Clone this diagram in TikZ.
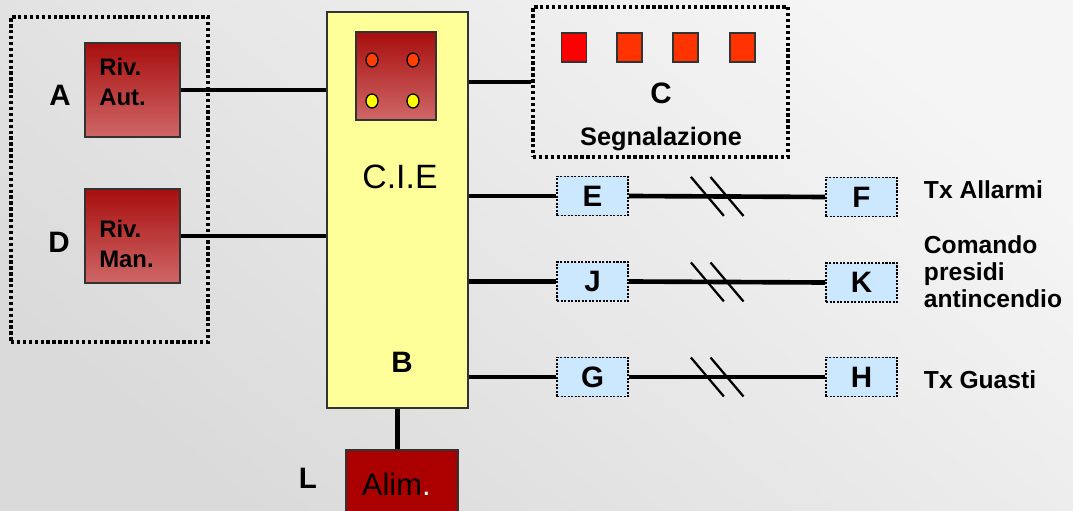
\documentclass[tikz,border=0pt]{standalone}
\usepackage{fontspec}
\setmainfont{Liberation Sans}
\usetikzlibrary{calc, shapes.geometric}
\definecolor{bglight}{HTML}{F5F5F5}
\definecolor{bgdark}{HTML}{DADADA}
\definecolor{cieyellow}{HTML}{FFFF99}
\definecolor{rivtop}{HTML}{A80E0E}
\definecolor{rivbot}{HTML}{CF6767}
\definecolor{alimred}{HTML}{AA0000}
\definecolor{ledorange}{HTML}{FF4000}
\definecolor{ledyellow}{HTML}{FFFF00}
\definecolor{sigred}{HTML}{FF0000}
\definecolor{sigorange}{HTML}{FF3300}
\definecolor{txblue}{HTML}{CCE8FF}
\definecolor{ink}{HTML}{000000}
\definecolor{edge}{HTML}{333333}

\begin{document}
\begin{tikzpicture}[
    x=0.025cm, y=-0.025cm,
    every node/.style={font=\bfseries, text=ink},
    wire/.style={line width=3.3pt, ink},
    brk/.style={line width=1.6pt, ink},
    % dotted grouping frame
    frame/.style={rectangle, draw=ink, line width=2.4pt, dash pattern=on 2.4pt off 1.8pt},
    % red gradient boxes
    rivbox/.style={rectangle, draw=edge, line width=0.9pt, top color=rivtop, bottom color=rivbot,
                   minimum width=2.375cm, minimum height=2.35cm},
    rivtxt/.style={anchor=north west, inner sep=0pt, align=left,
                   font=\fontsize{17}{21.3}\selectfont\bfseries},
    % light blue transmitter boxes
    txbox/.style={rectangle, draw=ink, line width=1.3pt, dash pattern=on 1.5pt off 1pt, fill=txblue,
                  minimum width=1.775cm, minimum height=0.975cm, inner sep=0pt,
                  font=\fontsize{21}{21}\selectfont\bfseries},
    led/.style={ellipse, draw=ink, line width=0.9pt, minimum width=0.3cm, minimum height=0.35cm, inner sep=0pt},
    sig/.style={rectangle, draw=edge, line width=0.9pt, minimum width=0.625cm, minimum height=0.725cm, inner sep=0pt},
    letter/.style={font=\fontsize{21}{21}\selectfont\bfseries},
    lbl/.style={anchor=west, align=left, font=\fontsize{17.5}{19.2}\selectfont\bfseries}
]

% ---------- Background ----------
\path[top color=bglight, bottom color=bgdark, shading angle=-40] (0,0) rectangle (1073,511);
\useasboundingbox (0,0) rectangle (1073,511);

% ---------- Detectors ----------
\node[frame, minimum width=4.925cm, minimum height=8.125cm] at (109.5, 179.5) (detgroup) {};
\node[rivbox] at (132.5, 90) (rivaut) {};
\node[rivbox] at (132.5, 236) (rivman) {};
\node[rivtxt] at (99, 58) (rivauttxt) {Riv.\\Aut.};
\node[rivtxt] at (99, 220) (rivmantxt) {Riv.\\Man.};
\node[letter] at (60, 95) (la) {A};
\node[letter] at (59, 242) (ld) {D};

% ---------- Central unit ----------
\node[rectangle, draw=edge, line width=1pt, fill=cieyellow,
      minimum width=3.525cm, minimum height=9.9cm] at (397.5, 210) (cie) {};
\node[rectangle, draw=edge, line width=0.9pt, top color=rivtop, bottom color=rivbot,
      minimum width=2cm, minimum height=2.2cm] at (396, 76) (panel) {};
\node[led, fill=ledorange] at (372, 60) (led1) {};
\node[led, fill=ledorange] at (413, 60) (led2) {};
\node[led, fill=ledyellow] at (372, 101) (led3) {};
\node[led, fill=ledyellow] at (413, 101) (led4) {};
\node[font=\fontsize{24}{24}\selectfont] at (400, 177) (cietxt) {C.I.E};
\node[letter] at (402, 362) (lb) {B};

% ---------- Signalling ----------
\node[frame, minimum width=6.375cm, minimum height=3.75cm] at (660.5, 82) (cbox) {};
\node[sig, fill=sigred] at (574, 47.5) (s1) {};
\node[sig, fill=sigorange] at (629.5, 47.5) (s2) {};
\node[sig, fill=sigorange] at (685.5, 47.5) (s3) {};
\node[sig, fill=sigorange] at (742.5, 47.5) (s4) {};
\node[letter] at (661, 93) (lc) {C};
\node[font=\fontsize{18}{18}\selectfont\bfseries] at (661, 139) (segn) {Segnalazione};

% ---------- Transmissions ----------
\node[txbox] at (592.5, 196) (e) {E};
\node[txbox] at (861.5, 197) (f) {F};
\node[txbox] at (592.5, 281.5) (j) {J};
\node[txbox] at (861.5, 282.5) (k) {K};
\node[txbox] at (592.5, 377) (g) {G};
\node[txbox] at (861.5, 377) (h) {H};
\node[lbl] at (919, 190) (txall) {Tx Allarmi};
\node[lbl] at (919, 272) (cmd) {Comando\\presidi\\antincendio};
\node[lbl] at (919, 380) (txgua) {Tx Guasti};

% ---------- Power supply ----------
\node[rectangle, draw=edge, line width=0.9pt, fill=alimred,
      minimum width=2.8cm, minimum height=1.75cm] at (402, 485) (alim) {};
\node[font=\fontsize{22}{22}\selectfont, anchor=west] at (357, 484) (alimtxt) {Alim\textcolor{white}{.}};
\node[letter] at (308, 478) (ll) {L};

% ---------- Wiring ----------
\draw[wire] (rivaut.east) -- (rivaut.east -| cie.west);
\draw[wire] (rivman.east) -- (rivman.east -| cie.west);
\draw[wire] (cbox.west -| cie.east) -- (cbox.west);
\draw[wire] (cie.south) -- (cie.south |- alim.north);
\foreach \a/\b in {e/f, j/k, g/h} {
  \draw[wire] (\a.west -| cie.east) -- (\a.west);
  \draw[wire] (\a.east) -- (\b.west);
  \draw[brk] ($(\a.east)!0.40!(\b.west) + (-16.5, -19.5)$) -- ++(33, 39);
  \draw[brk] ($(\a.east)!0.50!(\b.west) + (-16.5, -19.5)$) -- ++(33, 39);
}

\end{tikzpicture}
\end{document}
